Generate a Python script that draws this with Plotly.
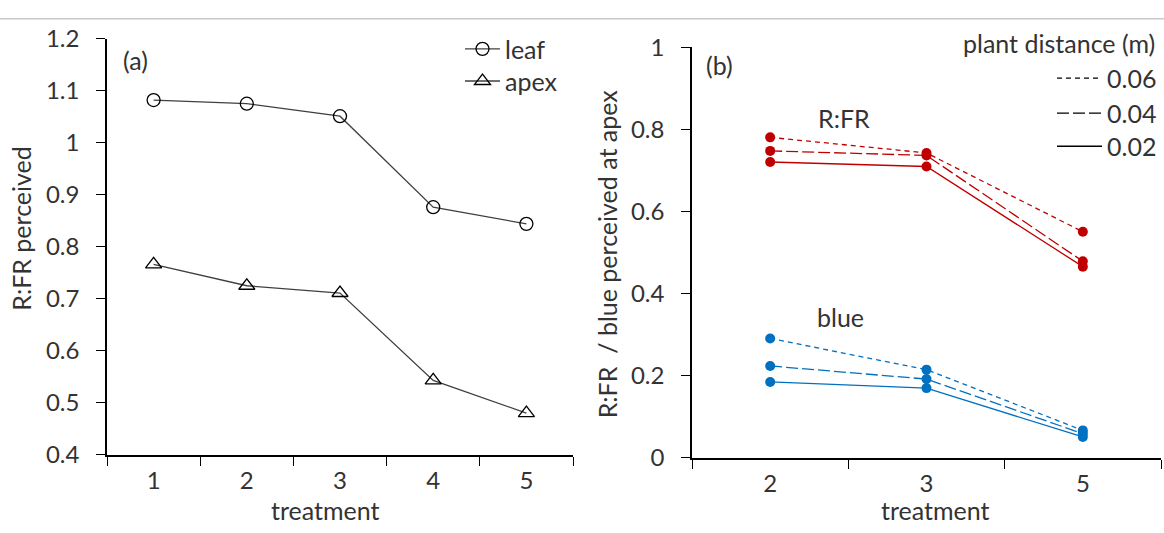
import plotly.graph_objects as go

W, H = 1164, 533

# ---- data: panel (a)
treat_a = ["1", "2", "3", "4", "5"]
leaf = [1.082, 1.075, 1.051, 0.876, 0.844]
apex = [0.766, 0.725, 0.711, 0.543, 0.480]

# ---- data: panel (b)
treat_b = ["2", "3", "5"]
distances = ["0.06", "0.04", "0.02"]
rfr = {
    "0.06": [0.781, 0.743, 0.551],
    "0.04": [0.748, 0.737, 0.479],
    "0.02": [0.721, 0.710, 0.466],
}
blue = {
    "0.06": [0.291, 0.215, 0.067],
    "0.04": [0.224, 0.192, 0.059],
    "0.02": [0.185, 0.170, 0.051],
}

FONT = "Lato"
FS = 24      # numbers
FT = 25      # words
TXT = "#333333"
RED = "#C00000"
BLUE = "#0070C0"
GREY = "#404040"
dash_of = {"0.06": "5px,4px", "0.04": "12px,4px", "0.02": "solid"}

def px(v):
    return v / W

def py(v):
    return 1 - v / H

fig = go.Figure()

# panel (a)
fig.add_trace(go.Scatter(x=treat_a, y=leaf, mode="lines+markers", name="leaf",
                         line=dict(color=GREY, width=1.3),
                         marker=dict(symbol="circle-open", size=13, color="black", line=dict(width=1.3)),
                         xaxis="x", yaxis="y", legend="legend"))
fig.add_trace(go.Scatter(x=treat_a, y=apex, mode="lines+markers", name="apex",
                         line=dict(color=GREY, width=1.3),
                         marker=dict(symbol="triangle-up-open", size=14, color="black", line=dict(width=1.3)),
                         xaxis="x", yaxis="y", legend="legend2"))

# panel (b)
for d in distances:
    fig.add_trace(go.Scatter(x=treat_b, y=rfr[d], mode="lines+markers", showlegend=False,
                             line=dict(color=RED, width=1.3, dash=dash_of[d]),
                             marker=dict(symbol="circle", size=10, color=RED),
                             xaxis="x2", yaxis="y2"))
    fig.add_trace(go.Scatter(x=treat_b, y=blue[d], mode="lines+markers", showlegend=False,
                             line=dict(color=BLUE, width=1.3, dash=dash_of[d]),
                             marker=dict(symbol="circle", size=10, color=BLUE),
                             xaxis="x2", yaxis="y2"))
leg_names = ["legend3", "legend4", "legend5"]
for d, ln in zip(distances, leg_names):
    fig.add_trace(go.Scatter(x=[None], y=[None], mode="lines", name=d,
                             line=dict(color="black", width=1.3, dash=dash_of[d]),
                             xaxis="x2", yaxis="y2", legend=ln))

axis_common = dict(showline=True, linecolor="black", linewidth=1.5, ticks="outside",
                   ticklen=9, tickcolor="black", tickwidth=1.3, showgrid=False, zeroline=False,
                   tickfont=dict(family=FONT, size=FS, color=TXT))

def leg(x, y, iw):
    return dict(x=px(x), y=py(y), xanchor="left", yanchor="middle",
                bgcolor="rgba(0,0,0,0)", font=dict(family=FONT, size=FT, color=TXT),
                itemwidth=iw, borderwidth=0)

fig.update_layout(
    width=W, height=H, margin=dict(l=0, r=0, t=0, b=0),
    paper_bgcolor="white", plot_bgcolor="white",
    font=dict(family=FONT, size=FT, color=TXT),
    xaxis=dict(domain=[px(107), px(573)], type="category", tickson="boundaries",
               range=[-0.5, 4.5], anchor="y", ticklabelstandoff=4, **axis_common),
    yaxis=dict(domain=[py(464), py(24)], range=[0.4, 1.2], dtick=0.1, anchor="x",
               ticklabelstandoff=12, **axis_common),
    xaxis2=dict(domain=[px(692), px(1161)], type="category", tickson="boundaries",
                range=[-0.5, 2.5], anchor="y2", ticklabelstandoff=4, **axis_common),
    yaxis2=dict(domain=[py(467.3), py(33.3)], range=[0, 1], dtick=0.2, anchor="x2",
                ticklabelstandoff=12, **axis_common),
    legend=leg(460, 35, 35),
    legend2=leg(460, 69, 35),
    legend3=leg(1052, 66, 45),
    legend4=leg(1052, 103, 45),
    legend5=leg(1052, 138, 45),
    showlegend=True,
)

ann = [
    dict(text="(a)", x=px(135), y=py(47)),
    dict(text="(b)", x=px(719), y=py(52)),
    dict(text="treatment", x=px(325), y=py(522)),
    dict(text="treatment", x=px(935), y=py(522)),
    dict(text="R:FR perceived", x=px(21), y=py(225), textangle=-90),
    dict(text="R:FR  / blue perceived at apex", x=px(607), y=py(252), textangle=-90),
]
for a in ann:
    fig.add_annotation(xref="paper", yref="paper", showarrow=False,
                       xanchor="center", yanchor="middle",
                       font=dict(family=FONT, size=FT, color=TXT), **a)

fig.add_annotation(text="plant distance (m)", x=px(1157), y=py(29), xref="paper", yref="paper",
                   xanchor="right", yanchor="middle", showarrow=False,
                   font=dict(family=FONT, size=FT, color=TXT))
fig.add_annotation(text="R:FR", x=0.47, y=0.828, xref="x2", yref="y2", showarrow=False,
                   font=dict(family=FONT, size=FT, color=TXT))
fig.add_annotation(text="blue", x=0.45, y=0.344, xref="x2", yref="y2", showarrow=False,
                   font=dict(family=FONT, size=FT, color=TXT))

fig.add_shape(type="line", xref="paper", yref="paper", x0=0, x1=1, y0=py(3), y1=py(3),
              line=dict(color="#c8c8c8", width=1.5))

post = ("document.documentElement.style.margin='0';document.body.style.margin='0';"
        "document.documentElement.style.overflow='hidden';document.body.style.overflow='hidden';"
        "var d=document.getElementById('{plot_id}');d.style.position='fixed';"
        "d.style.top='0px';d.style.left='0px';")
fig.write_html("out.html", config={"displayModeBar": False}, post_script=post)
